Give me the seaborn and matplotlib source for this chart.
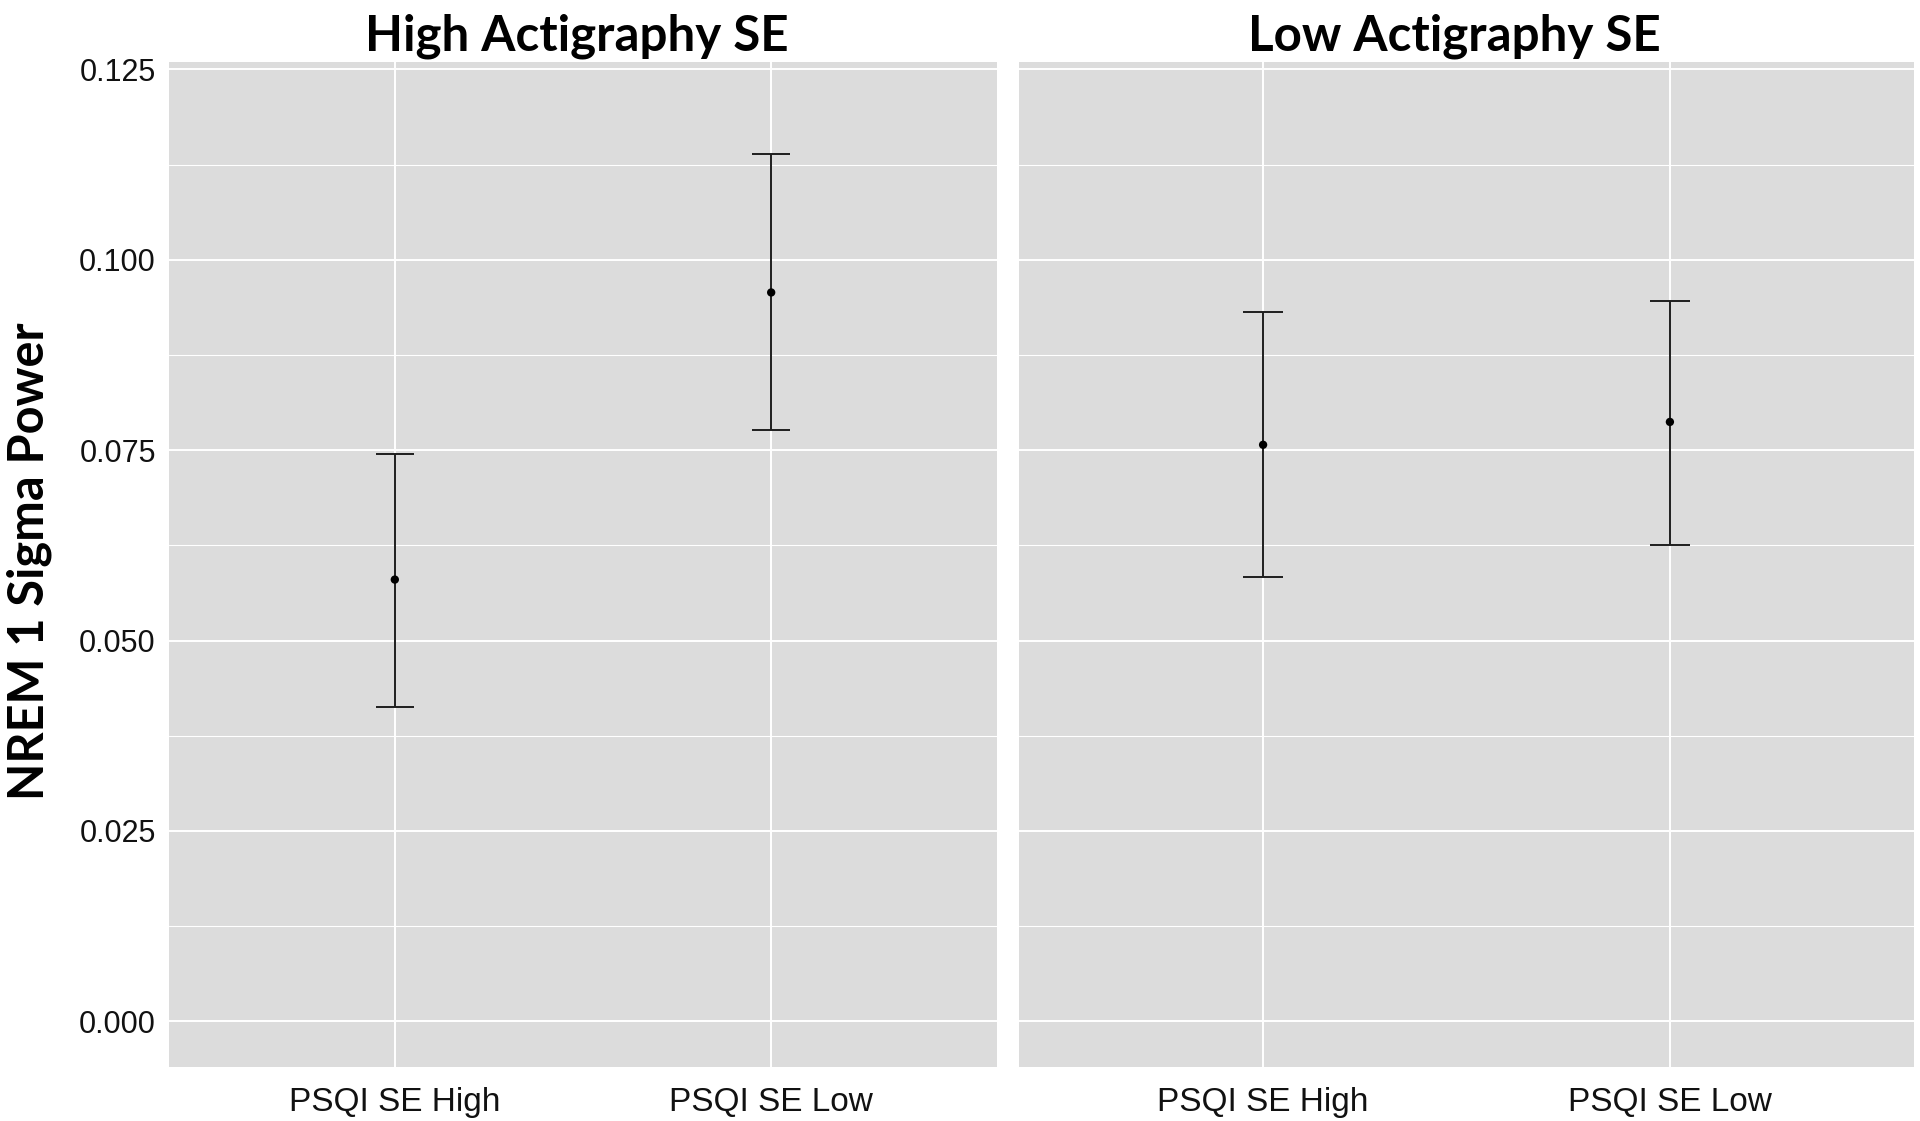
import matplotlib
matplotlib.use("Agg")
import matplotlib.pyplot as plt
import seaborn as sns
import pandas as pd
from matplotlib.ticker import MultipleLocator, FormatStrFormatter, FixedLocator

# ---- data ----
panel_titles = ["High Actigraphy SE", "Low Actigraphy SE"]
groups = ["PSQI SE High", "PSQI SE Low"]
high_act_mean = [0.0580, 0.0957]
high_act_lower = [0.0413, 0.0777]
high_act_upper = [0.0745, 0.1139]
low_act_mean = [0.0757, 0.0787]
low_act_lower = [0.0584, 0.0626]
low_act_upper = [0.0931, 0.0946]
y_ticks = [0.000, 0.025, 0.050, 0.075, 0.100, 0.125]
y_label = "NREM 1 Sigma Power"

sns.set_theme(style="darkgrid")
plt.rcParams['font.family'] = ['Liberation Sans', 'DejaVu Sans']

W, H = 1920, 1121
fig = plt.figure(figsize=(W / 100, H / 100), dpi=100)
top_px, bot_px = 61.7, 1067.0
ax1 = fig.add_axes([169 / W, 1 - bot_px / H, (997 - 169) / W, (bot_px - top_px) / H])
ax2 = fig.add_axes([1019 / W, 1 - bot_px / H, (1914 - 1019) / W, (bot_px - top_px) / H])

panel_data = [
    (ax1, high_act_mean, high_act_lower, high_act_upper, 13.5, 0.493),
    (ax2, low_act_mean, low_act_lower, low_act_upper, 14.6, 0.487),
]

for i, (ax, mean, lower, upper, cap, tx) in enumerate(panel_data):
    df = pd.DataFrame({"group": groups, "mean": mean, "lower": lower, "upper": upper})
    ax.set_facecolor("#DCDCDC")
    ax.errorbar(df["group"], df["mean"],
                yerr=[df["mean"] - df["lower"], df["upper"] - df["mean"]],
                fmt="none", ecolor="#1e1e1e", elinewidth=1.4, capsize=cap,
                capthick=1.4, zorder=2)
    sns.scatterplot(data=df, x="group", y="mean", ax=ax, color="black",
                    s=36, edgecolor="none", linewidth=0, zorder=3, legend=False)
    ax.set_xlim(-0.6, 1.6)
    ax.set_ylim(-0.006, 0.126)
    ax.yaxis.set_major_locator(FixedLocator(y_ticks))
    ax.yaxis.set_minor_locator(MultipleLocator(0.0125))
    ax.yaxis.set_major_formatter(FormatStrFormatter("%.3f"))
    ax.grid(which="major", color="white", linewidth=1.4)
    ax.grid(which="minor", axis="y", color="white", linewidth=0.8)
    ax.set_axisbelow(True)
    for s in ax.spines.values():
        s.set_visible(False)
    ax.tick_params(axis="both", which="major", length=3.5, width=1.0,
                   color="#333333", colors="#333333")
    ax.tick_params(axis="y", which="minor", length=0)
    ax.tick_params(axis="x", labelsize=24, pad=11, labelcolor="#111111")
    ax.tick_params(axis="y", labelsize=22, pad=6, labelcolor="#111111")
    ax.set_xlabel("")
    ax.set_ylabel("")
    ax.set_title(panel_titles[i], fontsize=35.5, fontweight="bold",
                 family=["Lato", "DejaVu Sans"], pad=8, color="black", x=tx)

ax2.tick_params(axis="y", labelleft=False)

fig.text(7 / W, 1 - 561 / H, y_label, rotation=90, ha="left", va="center",
         fontsize=35, fontweight="bold", family=["Lato", "DejaVu Sans"],
         color="black")

fig.savefig("out.png", dpi=100, facecolor="white")
